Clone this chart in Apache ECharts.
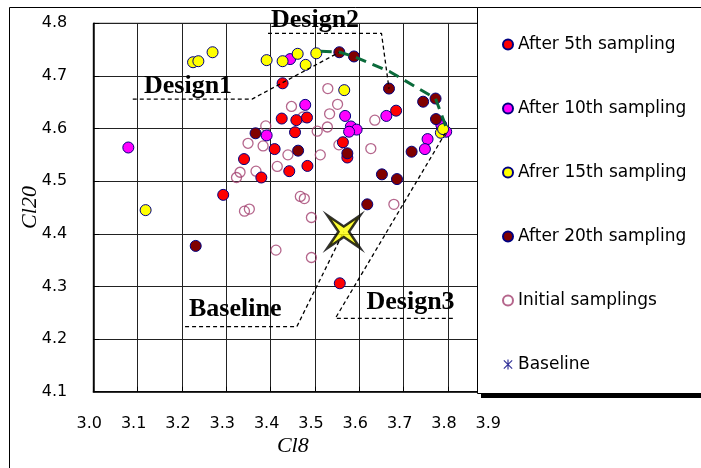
<!DOCTYPE html>
<html>
<head>
<meta charset="utf-8">
<script src="https://cdn.jsdelivr.net/npm/echarts@6/dist/echarts.min.js"></script>
<style>html,body{margin:0;padding:0;background:#fff}#c{width:701px;height:468px}</style>
</head>
<body>
<div id="c"></div>
<script>
// ---- data (Cl8, Cl20) ----
const after5 = [[3.427,4.686],[3.425,4.619],[3.458,4.616],[3.482,4.621],[3.455,4.593],[3.683,4.634],[3.409,4.561],[3.340,4.542],[3.442,4.519],[3.379,4.507],[3.483,4.529],[3.563,4.574],[3.573,4.545],[3.293,4.474],[3.556,4.306]];
const after10 = [[3.444,4.732],[3.079,4.564],[3.391,4.587],[3.478,4.645],[3.568,4.624],[3.581,4.604],[3.594,4.598],[3.577,4.594],[3.661,4.624],[3.754,4.580],[3.748,4.561],[3.796,4.594],[3.785,4.607]];
const after15 = [[3.225,4.726],[3.237,4.728],[3.269,4.745],[3.391,4.730],[3.427,4.728],[3.461,4.742],[3.479,4.721],[3.503,4.743],[3.566,4.673],[3.784,4.592],[3.789,4.599],[3.118,4.445]];
const after20 = [[3.555,4.745],[3.588,4.737],[3.667,4.676],[3.744,4.651],[3.772,4.657],[3.773,4.618],[3.366,4.591],[3.462,4.558],[3.573,4.553],[3.718,4.556],[3.651,4.513],[3.685,4.504],[3.618,4.456],[3.231,4.377]];
const initialSamplings = [[3.447,4.642],[3.389,4.605],[3.529,4.676],[3.551,4.646],[3.533,4.628],[3.528,4.603],[3.505,4.595],[3.473,4.622],[3.635,4.616],[3.349,4.572],[3.383,4.567],[3.439,4.550],[3.415,4.528],[3.367,4.519],[3.331,4.517],[3.323,4.507],[3.512,4.550],[3.554,4.569],[3.467,4.471],[3.476,4.467],[3.352,4.447],[3.341,4.443],[3.492,4.431],[3.412,4.369],[3.492,4.355],[3.626,4.562],[3.678,4.456]];
const baselinePoint = [[3.565,4.404]];

// annotation guide lines (data coordinates)
const design1Path = [[3.089,4.656],[3.358,4.656],[3.555,4.745]];
const design2Path = [[3.394,4.781],[3.650,4.781],[3.667,4.676]];
const baselinePath = [[3.207,4.2235],[3.459,4.2235],[3.565,4.404]];
const design3Path = [[3.811,4.2395],[3.546,4.2395],[3.796,4.594]];
const frontPath = [[3.513,4.747],[3.556,4.745],[3.588,4.737],[3.669,4.708],[3.772,4.657],[3.797,4.600]];

const xTicks = {min:3.0, max:3.9, step:0.1};
const yTicks = {min:4.1, max:4.8, step:0.1};

const seriesNames = ['After 5th sampling','After 10th sampling','Afrer 15th sampling','After 20th sampling','Initial samplings','Baseline'];
const annotations = [
  {text:'Design1', x:144, y:86},
  {text:'Design2', x:271, y:20},
  {text:'Baseline', x:189, y:309.5},
  {text:'Design3', x:366.5, y:302}
];

const chart = echarts.init(document.getElementById('c'), null, {renderer:'canvas'});
const sans = '"DejaVu Sans", sans-serif';
const serif = '"Liberation Serif", "DejaVu Serif", serif';

function dots(name, data, color) {
  return {name, type:'scatter', data, symbol:'circle', symbolSize:11, z:3,
    itemStyle:{color, borderColor:'#000080', borderWidth:1, opacity:1}};
}
function guide(data, color, width, dash, z) {
  return {type:'line', data, symbol:'none', silent:true, z, animation:false,
    lineStyle:{color, width, type:dash}};
}

const asterisk = 'path://M10.6,0 L13.4,0 L13.4,24 L10.6,24 Z M1,3 L3,1 L23,21 L21,23 Z M21,1 L23,3 L3,23 L1,21 Z';
const star4 = 'path://M-1,-1 L0,-0.32 L1,-1 L0.32,0 L1,1 L0,0.32 L-1,1 L-0.32,0 Z';

chart.setOption({
  animation:false,
  backgroundColor:'#fff',
  grid:{left:93.3, top:23.3, right:208.7, bottom:76.3, show:true, borderColor:'#000', borderWidth:1},
  xAxis:{type:'value', min:xTicks.min, max:xTicks.max, interval:xTicks.step,
    name:'Cl8', nameLocation:'middle', nameGap:44, nameMoveOverlap:false,
    nameTextStyle:{fontFamily:serif, fontStyle:'italic', fontSize:22, color:'#000'},
    axisLine:{show:true, onZero:false, lineStyle:{color:'#000', width:1.5}},
    axisTick:{show:true, inside:true, length:5, lineStyle:{color:'#000'}},
    axisLabel:{color:'#000', fontFamily:sans, fontSize:16, margin:24, padding:[0,8,0,0],
      formatter:v=>v.toFixed(1)},
    splitLine:{show:true, lineStyle:{color:'#222', width:1}}},
  yAxis:{type:'value', min:yTicks.min, max:yTicks.max, interval:yTicks.step,
    name:'Cl20', nameLocation:'middle', nameGap:52, nameMoveOverlap:false,
    nameTextStyle:{fontFamily:serif, fontStyle:'italic', fontSize:22, color:'#000'},
    axisLine:{show:true, onZero:false, lineStyle:{color:'#000', width:1.5}},
    axisTick:{show:true, inside:true, length:6, lineStyle:{color:'#000'}},
    axisLabel:{color:'#000', fontFamily:sans, fontSize:16, margin:26,
      formatter:v=>v.toFixed(1)},
    splitLine:{show:true, lineStyle:{color:'#222', width:1}}},
  legend:{orient:'vertical', left:497, top:31, itemGap:47, itemWidth:10, itemHeight:10, z:200,
    textStyle:{fontFamily:sans, fontSize:17, color:'#000'},
    data:[
      {name:seriesNames[0], icon:'circle'},
      {name:seriesNames[1], icon:'circle'},
      {name:seriesNames[2], icon:'circle'},
      {name:seriesNames[3], icon:'circle'},
      {name:seriesNames[4], icon:'circle'},
      {name:seriesNames[5], icon:asterisk, itemStyle:{color:'#000080', borderWidth:0}}
    ]},
  graphic:[
    {type:'rect', shape:{x:9.5, y:7.5, width:720, height:500}, style:{fill:'none', stroke:'#000', lineWidth:1}, z:1, silent:true},
    {type:'rect', shape:{x:481, y:393, width:230, height:5}, style:{fill:'#000'}, z:99, silent:true},
    {type:'rect', shape:{x:477.5, y:7.5, width:240, height:386}, style:{fill:'#fff', stroke:'#000', lineWidth:1}, z:100, silent:true}
  ].concat(annotations.map(a=>({type:'text', x:a.x, y:a.y, z:60, silent:true,
    style:{text:a.text, font:'bold 26px "Liberation Serif"', fill:'#000', verticalAlign:'middle', align:'left'}}))),
  series:[
    {name:seriesNames[4], type:'scatter', data:initialSamplings, symbol:'circle', symbolSize:10, z:2,
      itemStyle:{color:'rgba(255,255,255,0)', borderColor:'#a3406f', borderWidth:1.3}},
    dots(seriesNames[0], after5, '#ff0000'),
    dots(seriesNames[1], after10, '#ff00ff'),
    dots(seriesNames[2], after15, '#ffff00'),
    dots(seriesNames[3], after20, '#800000'),
    guide(design1Path, '#000', 1.3, [4,3], 4),
    guide(design2Path, '#000', 1.3, [4,3], 4),
    guide(baselinePath, '#000', 1.3, [4,3], 4),
    guide(design3Path, '#000', 1.3, [4,3], 4),
    guide(frontPath, '#0b6b3b', 3, [11,7], 5),
    {name:seriesNames[5], type:'scatter', data:baselinePoint, symbol:star4, symbolSize:33, z:6,
      itemStyle:{color:'#ffff00', borderColor:'#000', borderWidth:2.5}}
  ]
});
</script>
</body>
</html>
